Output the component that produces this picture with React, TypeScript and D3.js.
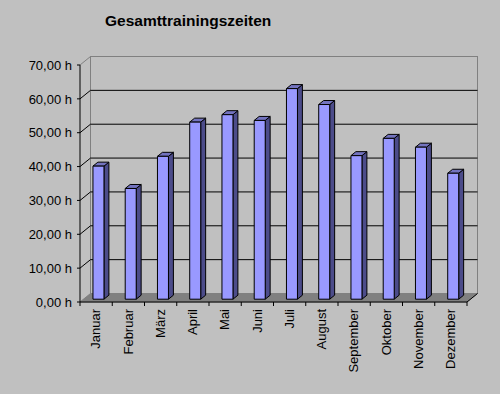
import React from 'react';
import * as d3 from 'd3';

const months = ['Januar', 'Februar', 'März', 'April', 'Mai', 'Juni', 'Juli', 'August', 'September', 'Oktober', 'November', 'Dezember'];
const hours = [39.3, 32.7, 42.2, 52.3, 54.5, 52.8, 62.2, 57.5, 42.4, 47.5, 44.9, 37.2];
const yTicks = [0, 10, 20, 30, 40, 50, 60, 70];
const title = 'Gesamttrainingszeiten';

const W = 500;
const H = 394;
// depth offset of the back wall relative to the front plane
const DX = 10.5;
const DY = -8.5;
const F1 = 0.33; // bar front depth
const F2 = 0.8; // bar back depth

const fmt = (v: number) => d3.format('.2f')(v).replace('.', ',') + ' h';

export default function App() {
  const x = d3.scaleBand<string>().domain(months).range([80, 467]);
  const y = d3.scaleLinear().domain([0, 70]).range([302, 65]);
  const P = (px: number, v: number, f: number): [number, number] => [px + f * DX, y(v) + f * DY];
  const poly = (pts: [number, number][]) => pts.map(p => p.join(',')).join(' ');

  const x0 = x.range()[0];
  const x1 = x.range()[1];
  const barOff = 9.5;
  const barW = 11;
  const font = '"Liberation Sans", Arial, sans-serif';

  return (
    <svg width={W} height={H} style={{ position: 'absolute', left: 0, top: 0 }} fontFamily={font}>
      <rect width={W} height={H} fill="#c0c0c0" />
      <text x={105} y={26} fontSize={15.5} fontWeight="bold" fill="#000">{title}</text>

      {/* walls */}
      <polygon points={poly([P(x0, 0, 0), P(x0, 70, 0), P(x0, 70, 1), P(x0, 0, 1)])} fill="#c0c0c0" />
      <rect x={x0 + DX} y={y(70) + DY} width={x1 - x0} height={y(0) - y(70)} fill="#c0c0c0" stroke="#808080" />
      <line x1={x0} y1={y(70)} x2={x0 + DX} y2={y(70) + DY} stroke="#808080" />
      {/* floor */}
      <polygon points={poly([P(x0, 0, 0), P(x1, 0, 0), P(x1, 0, 1), P(x0, 0, 1)])} fill="#808080" stroke="#808080" />

      {/* gridlines */}
      {yTicks.filter(t => t > 0 && t < 70).map(t => (
        <g key={t}>
          <line x1={x0 + DX} x2={x1 + DX} y1={y(t) + DY} y2={y(t) + DY} stroke="#000" />
          <line x1={x0} y1={y(t)} x2={x0 + DX} y2={y(t) + DY} stroke="#000" />
        </g>
      ))}

      {/* bars */}
      {months.map((m, i) => {
        const bx = (x(m) as number) + barOff;
        const v = hours[i];
        const a = P(bx, v, F1);
        const b = P(bx + barW, 0, F1);
        return (
          <g key={m} stroke="#000" strokeWidth={1} strokeLinejoin="round">
            <polygon points={poly([P(bx + barW, 0, F1), P(bx + barW, 0, F2), P(bx + barW, v, F2), P(bx + barW, v, F1)])} fill="#4c4c8a" />
            <polygon points={poly([P(bx, v, F1), P(bx + barW, v, F1), P(bx + barW, v, F2), P(bx, v, F2)])} fill="#7373bf" />
            <rect x={a[0]} y={a[1]} width={b[0] - a[0]} height={b[1] - a[1]} fill="#9999ff" />
          </g>
        );
      })}

      {/* axes */}
      <line x1={x0} x2={x0} y1={y(70)} y2={y(0)} stroke="#000" />
      <line x1={x0} x2={x1} y1={y(0)} y2={y(0)} stroke="#000" />
      <line x1={x1} y1={y(0)} x2={x1 + DX} y2={y(0) + DY} stroke="#000" />
      {yTicks.map(t => (
        <g key={t}>
          <line x1={x0 - 3} x2={x0} y1={y(t)} y2={y(t)} stroke="#000" />
          <text x={72} y={y(t)} dy="0.36em" textAnchor="end" fontSize={13} fill="#000">{fmt(t)}</text>
        </g>
      ))}
      {[...months.map(m => x(m) as number), x1].map((px, i) => (
        <line key={i} x1={px} x2={px} y1={y(0)} y2={y(0) + 4} stroke="#000" />
      ))}
      {months.map(m => {
        const cx = (x(m) as number) + x.bandwidth() / 2 - 0.5;
        return (
          <text key={m} transform={`translate(${cx},309) rotate(-90)`} dy="0.36em" textAnchor="end" fontSize={13} fill="#000">{m}</text>
        );
      })}
    </svg>
  );
}
